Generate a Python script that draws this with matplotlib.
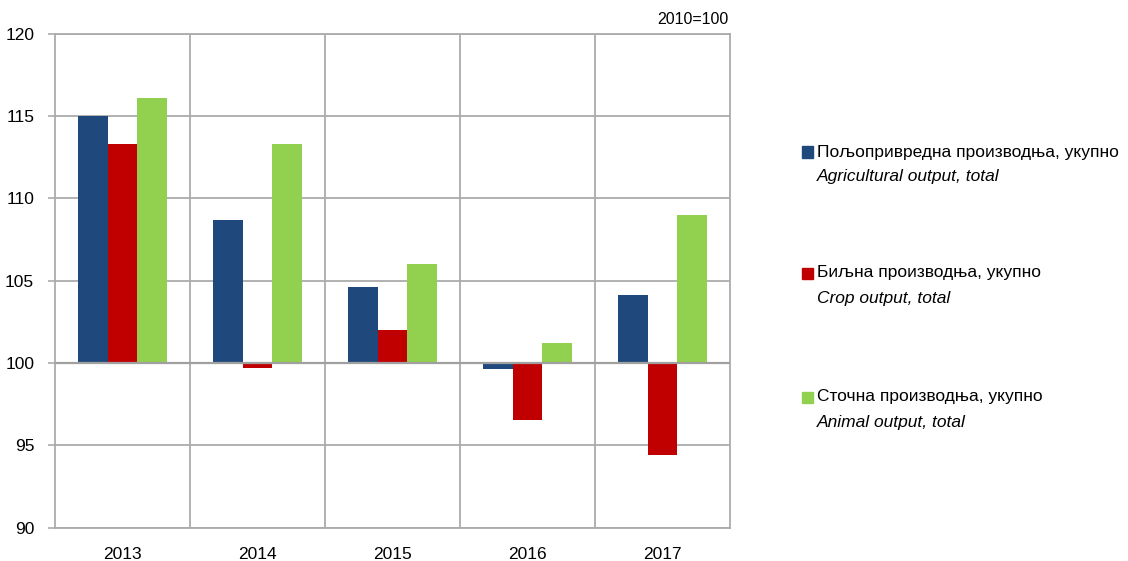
import matplotlib
matplotlib.use("Agg")
import matplotlib.pyplot as plt
from matplotlib.patches import Rectangle
import numpy as np

years = ["2013", "2014", "2015", "2016", "2017"]
agricultural = [115.0, 108.7, 104.6, 99.6, 104.1]
crop = [113.3, 99.7, 102.0, 96.5, 94.4]
animal = [116.1, 113.3, 106.0, 101.2, 109.0]
series = [agricultural, crop, animal]
labels_sr = ["Пољопривредна производња, укупно", "Биљна производња, укупно", "Сточна производња, укупно"]
labels_en = ["Agricultural output, total", "Crop output, total", "Animal output, total"]
colors = ["#1F497D", "#C00000", "#92D050"]
base = 100
yticks = [90, 95, 100, 105, 110, 115, 120]

plt.rcParams['font.family'] = ['Liberation Sans', 'DejaVu Sans']
fig = plt.figure(figsize=(11.28, 5.61), dpi=100)
ax = fig.add_axes([55/1128, 1-527.5/561, (730-55)/1128, (527.5-33.5)/561])

grid_c = "#ABABAB"
x = np.arange(len(years))
w = 0.222
for i, (vals, c) in enumerate(zip(series, colors)):
    v = np.array(vals)
    ax.bar(x + (i-1)*w, v - base, bottom=base, width=w, color=c, zorder=3, linewidth=0)

ax.set_xlim(-0.5, len(years)-0.5)
ax.set_ylim(90, 120)
ax.set_yticks(yticks)
ax.set_yticklabels([str(t) for t in yticks], fontsize=12.5)
ax.set_xticks(x)
ax.set_xticklabels(years, fontsize=12.5)
ax.tick_params(axis='x', length=0, pad=14)
ax.tick_params(axis='y', length=5, width=1.2, color=grid_c, pad=10)
for yv in yticks:
    ax.axhline(yv, color=grid_c, lw=1.3, zorder=1)
for b in np.arange(0.5, len(years)-0.5, 1):
    ax.axvline(b, color=grid_c, lw=1.3, zorder=1)
ax.axhline(base, color="#A0A0A0", lw=1.6, zorder=4)
for s in ax.spines.values():
    s.set_color(grid_c)
    s.set_linewidth(1.3)

fig.text(728/1128, 1-19/561, "2010=100", ha='right', va='center', fontsize=11.5)

ys = [(152, 177), (273, 298), (397, 423)]
for (y1, y2), c, ls, le in zip(ys, colors, labels_sr, labels_en):
    fig.patches.append(Rectangle((802/1128, 1-(y1+5.5)/561), 11/1128, 11/561,
                                 transform=fig.transFigure, color=c, figure=fig))
    fig.text(817/1128, 1-y1/561, ls, ha='left', va='center', fontsize=12.5)
    fig.text(817/1128, 1-y2/561, le, ha='left', va='center', fontsize=12.5, style='italic')

fig.savefig("out.png", dpi=100)
